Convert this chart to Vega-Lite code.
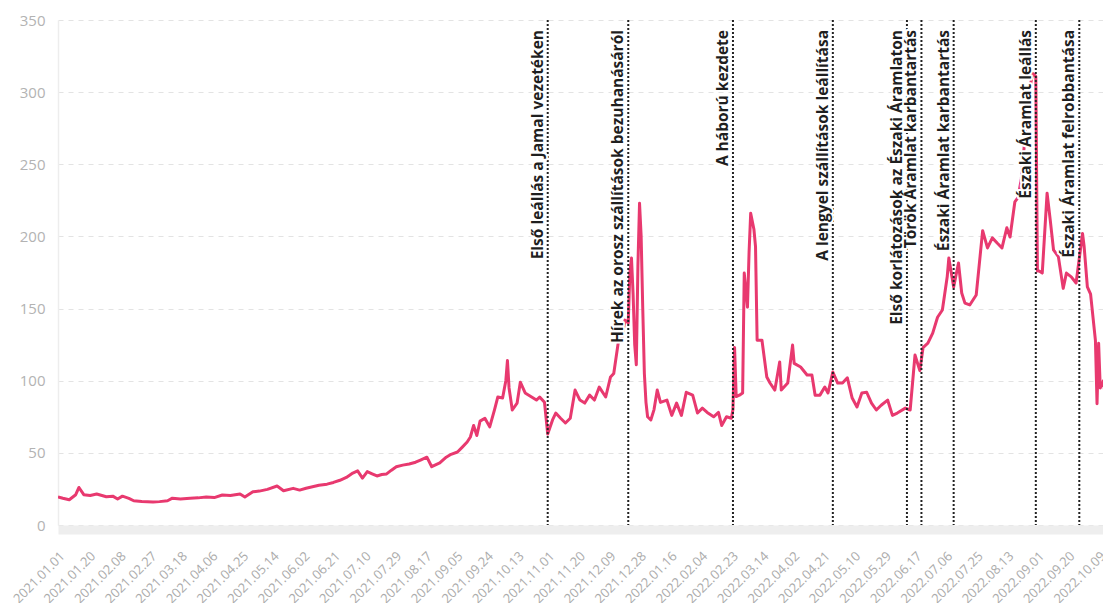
{
  "$schema": "https://vega.github.io/schema/vega-lite/v6.json",
  "width": 1045,
  "height": 505,
  "autosize": {"type": "none"},
  "padding": {"left": 58, "top": 20, "right": 0, "bottom": 78},
  "background": "white",
  "config": {"view": {"stroke": null}},
  "datasets": {
    "price": [
      {"date": "2021-01-01", "value": 19.5},
      {"date": "2021-01-04", "value": 18.5},
      {"date": "2021-01-08", "value": 17.5},
      {"date": "2021-01-12", "value": 21},
      {"date": "2021-01-14", "value": 26},
      {"date": "2021-01-17", "value": 21},
      {"date": "2021-01-21", "value": 20.5},
      {"date": "2021-01-25", "value": 21.5},
      {"date": "2021-01-31", "value": 19.6},
      {"date": "2021-02-04", "value": 20},
      {"date": "2021-02-07", "value": 18},
      {"date": "2021-02-10", "value": 20},
      {"date": "2021-02-14", "value": 18.5},
      {"date": "2021-02-17", "value": 16.8},
      {"date": "2021-02-22", "value": 16.3},
      {"date": "2021-03-01", "value": 15.9},
      {"date": "2021-03-05", "value": 16.2},
      {"date": "2021-03-10", "value": 16.8},
      {"date": "2021-03-13", "value": 18.6},
      {"date": "2021-03-18", "value": 18},
      {"date": "2021-03-24", "value": 18.6},
      {"date": "2021-03-29", "value": 18.8},
      {"date": "2021-04-03", "value": 19.4},
      {"date": "2021-04-08", "value": 19},
      {"date": "2021-04-13", "value": 20.8},
      {"date": "2021-04-18", "value": 20.5},
      {"date": "2021-04-24", "value": 21.5},
      {"date": "2021-04-27", "value": 19.4},
      {"date": "2021-05-02", "value": 23},
      {"date": "2021-05-06", "value": 23.5},
      {"date": "2021-05-11", "value": 24.7},
      {"date": "2021-05-17", "value": 27},
      {"date": "2021-05-21", "value": 23.7},
      {"date": "2021-05-27", "value": 25.4},
      {"date": "2021-05-31", "value": 24.2},
      {"date": "2021-06-04", "value": 25.5},
      {"date": "2021-06-08", "value": 26.5},
      {"date": "2021-06-12", "value": 27.5},
      {"date": "2021-06-17", "value": 28.3},
      {"date": "2021-06-21", "value": 29.5},
      {"date": "2021-06-25", "value": 31},
      {"date": "2021-06-29", "value": 33},
      {"date": "2021-07-03", "value": 36},
      {"date": "2021-07-06", "value": 37.5},
      {"date": "2021-07-09", "value": 32.5},
      {"date": "2021-07-12", "value": 37},
      {"date": "2021-07-15", "value": 35.5},
      {"date": "2021-07-18", "value": 34},
      {"date": "2021-07-21", "value": 35},
      {"date": "2021-07-24", "value": 35.4},
      {"date": "2021-07-27", "value": 38},
      {"date": "2021-07-30", "value": 40.4},
      {"date": "2021-08-03", "value": 41.5},
      {"date": "2021-08-07", "value": 42.3},
      {"date": "2021-08-11", "value": 43.5},
      {"date": "2021-08-14", "value": 45},
      {"date": "2021-08-18", "value": 47},
      {"date": "2021-08-21", "value": 40.4},
      {"date": "2021-08-26", "value": 43},
      {"date": "2021-08-30", "value": 47},
      {"date": "2021-09-02", "value": 49},
      {"date": "2021-09-06", "value": 50.6},
      {"date": "2021-09-09", "value": 54},
      {"date": "2021-09-12", "value": 57.5},
      {"date": "2021-09-14", "value": 61},
      {"date": "2021-09-16", "value": 69},
      {"date": "2021-09-18", "value": 62},
      {"date": "2021-09-20", "value": 72},
      {"date": "2021-09-23", "value": 74},
      {"date": "2021-09-26", "value": 68},
      {"date": "2021-09-29", "value": 80},
      {"date": "2021-10-01", "value": 88.7},
      {"date": "2021-10-04", "value": 88},
      {"date": "2021-10-06", "value": 100},
      {"date": "2021-10-07", "value": 114},
      {"date": "2021-10-08", "value": 95},
      {"date": "2021-10-10", "value": 79.7},
      {"date": "2021-10-13", "value": 84.5},
      {"date": "2021-10-15", "value": 99},
      {"date": "2021-10-18", "value": 91.5},
      {"date": "2021-10-22", "value": 88.7},
      {"date": "2021-10-25", "value": 86.6},
      {"date": "2021-10-27", "value": 88.7},
      {"date": "2021-10-30", "value": 85},
      {"date": "2021-11-01", "value": 63},
      {"date": "2021-11-04", "value": 72.8},
      {"date": "2021-11-06", "value": 77.6},
      {"date": "2021-11-09", "value": 74},
      {"date": "2021-11-12", "value": 70.7},
      {"date": "2021-11-15", "value": 74},
      {"date": "2021-11-18", "value": 93.5},
      {"date": "2021-11-21", "value": 86.6},
      {"date": "2021-11-24", "value": 84.5},
      {"date": "2021-11-27", "value": 90},
      {"date": "2021-11-30", "value": 86.6},
      {"date": "2021-12-03", "value": 95.6},
      {"date": "2021-12-07", "value": 88.7},
      {"date": "2021-12-10", "value": 102.6},
      {"date": "2021-12-12", "value": 105},
      {"date": "2021-12-15", "value": 128},
      {"date": "2021-12-17", "value": 130},
      {"date": "2021-12-19", "value": 142},
      {"date": "2021-12-21", "value": 140},
      {"date": "2021-12-22", "value": 175},
      {"date": "2021-12-23", "value": 185},
      {"date": "2021-12-24", "value": 160},
      {"date": "2021-12-25", "value": 125},
      {"date": "2021-12-26", "value": 111},
      {"date": "2021-12-27", "value": 180},
      {"date": "2021-12-28", "value": 223},
      {"date": "2021-12-29", "value": 200},
      {"date": "2021-12-30", "value": 150},
      {"date": "2021-12-31", "value": 105},
      {"date": "2022-01-01", "value": 85},
      {"date": "2022-01-02", "value": 75},
      {"date": "2022-01-04", "value": 72.8},
      {"date": "2022-01-06", "value": 80},
      {"date": "2022-01-08", "value": 93.5},
      {"date": "2022-01-10", "value": 85},
      {"date": "2022-01-14", "value": 86.6},
      {"date": "2022-01-17", "value": 76},
      {"date": "2022-01-20", "value": 84.5},
      {"date": "2022-01-23", "value": 76},
      {"date": "2022-01-26", "value": 92},
      {"date": "2022-01-30", "value": 90},
      {"date": "2022-02-02", "value": 77.6},
      {"date": "2022-02-05", "value": 81},
      {"date": "2022-02-08", "value": 78},
      {"date": "2022-02-12", "value": 75},
      {"date": "2022-02-15", "value": 78},
      {"date": "2022-02-17", "value": 69},
      {"date": "2022-02-20", "value": 75},
      {"date": "2022-02-23", "value": 74},
      {"date": "2022-02-24", "value": 80},
      {"date": "2022-02-25", "value": 123},
      {"date": "2022-02-26", "value": 89},
      {"date": "2022-02-28", "value": 90},
      {"date": "2022-03-02", "value": 91.5},
      {"date": "2022-03-03", "value": 174.6},
      {"date": "2022-03-05", "value": 151},
      {"date": "2022-03-06", "value": 189},
      {"date": "2022-03-07", "value": 216},
      {"date": "2022-03-09", "value": 205},
      {"date": "2022-03-10", "value": 193},
      {"date": "2022-03-11", "value": 128},
      {"date": "2022-03-14", "value": 128},
      {"date": "2022-03-17", "value": 102.6},
      {"date": "2022-03-19", "value": 98.4},
      {"date": "2022-03-22", "value": 93.5},
      {"date": "2022-03-25", "value": 113},
      {"date": "2022-03-26", "value": 93.5},
      {"date": "2022-03-30", "value": 98.4},
      {"date": "2022-04-02", "value": 124.7},
      {"date": "2022-04-03", "value": 112},
      {"date": "2022-04-07", "value": 109.5},
      {"date": "2022-04-11", "value": 104},
      {"date": "2022-04-14", "value": 104},
      {"date": "2022-04-16", "value": 90},
      {"date": "2022-04-19", "value": 90},
      {"date": "2022-04-22", "value": 95.6},
      {"date": "2022-04-24", "value": 91.5},
      {"date": "2022-04-27", "value": 106},
      {"date": "2022-04-30", "value": 98.4},
      {"date": "2022-05-03", "value": 98.4},
      {"date": "2022-05-06", "value": 102},
      {"date": "2022-05-09", "value": 88},
      {"date": "2022-05-12", "value": 81.8},
      {"date": "2022-05-15", "value": 91.5},
      {"date": "2022-05-18", "value": 92},
      {"date": "2022-05-21", "value": 84.5},
      {"date": "2022-05-24", "value": 79.7},
      {"date": "2022-05-27", "value": 83},
      {"date": "2022-05-31", "value": 86.6},
      {"date": "2022-06-03", "value": 76},
      {"date": "2022-06-06", "value": 77.6},
      {"date": "2022-06-11", "value": 81},
      {"date": "2022-06-14", "value": 79.7},
      {"date": "2022-06-16", "value": 105},
      {"date": "2022-06-17", "value": 117.8},
      {"date": "2022-06-20", "value": 107},
      {"date": "2022-06-22", "value": 123},
      {"date": "2022-06-25", "value": 126},
      {"date": "2022-06-28", "value": 133},
      {"date": "2022-07-01", "value": 144},
      {"date": "2022-07-04", "value": 149},
      {"date": "2022-07-07", "value": 172},
      {"date": "2022-07-08", "value": 185},
      {"date": "2022-07-11", "value": 165},
      {"date": "2022-07-14", "value": 181.6},
      {"date": "2022-07-16", "value": 160.8},
      {"date": "2022-07-18", "value": 153.8},
      {"date": "2022-07-21", "value": 152.5},
      {"date": "2022-07-25", "value": 159.4},
      {"date": "2022-07-29", "value": 204},
      {"date": "2022-08-01", "value": 192},
      {"date": "2022-08-04", "value": 199},
      {"date": "2022-08-07", "value": 195.4},
      {"date": "2022-08-10", "value": 192},
      {"date": "2022-08-13", "value": 206},
      {"date": "2022-08-15", "value": 199.6},
      {"date": "2022-08-18", "value": 224},
      {"date": "2022-08-20", "value": 227},
      {"date": "2022-08-22", "value": 240},
      {"date": "2022-08-24", "value": 265},
      {"date": "2022-08-26", "value": 295},
      {"date": "2022-08-29", "value": 313},
      {"date": "2022-08-30", "value": 312},
      {"date": "2022-08-31", "value": 311},
      {"date": "2022-09-01", "value": 176},
      {"date": "2022-09-02", "value": 176},
      {"date": "2022-09-04", "value": 174.6},
      {"date": "2022-09-07", "value": 230},
      {"date": "2022-09-09", "value": 211},
      {"date": "2022-09-11", "value": 190.6},
      {"date": "2022-09-14", "value": 186},
      {"date": "2022-09-17", "value": 164},
      {"date": "2022-09-19", "value": 174.6},
      {"date": "2022-09-22", "value": 172},
      {"date": "2022-09-25", "value": 167.7},
      {"date": "2022-09-29", "value": 202},
      {"date": "2022-09-30", "value": 193},
      {"date": "2022-10-02", "value": 165},
      {"date": "2022-10-04", "value": 160},
      {"date": "2022-10-07", "value": 128},
      {"date": "2022-10-08", "value": 84},
      {"date": "2022-10-09", "value": 126},
      {"date": "2022-10-10", "value": 95},
      {"date": "2022-10-11", "value": 98},
      {"date": "2022-10-12", "value": 100},
      {"date": "2022-10-13", "value": 90}
    ],
    "events": [
      {"date": "2021-11-01", "label": "Első leállás a Jamal vezetéken"},
      {"date": "2021-12-21", "label": "Hírek az orosz szállítások bezuhanásáról"},
      {"date": "2022-02-24", "label": "A háború kezdete"},
      {"date": "2022-04-27", "label": "A lengyel szállítások leállítása"},
      {"date": "2022-06-12", "label": "Első korlátozások az Északi Áramlaton"},
      {"date": "2022-06-21", "label": "Török Áramlat karbantartás"},
      {"date": "2022-07-11", "label": "Északi Áramlat karbantartás"},
      {"date": "2022-08-31", "label": "Északi Áramlat leállás"},
      {"date": "2022-09-27", "label": "Északi Áramlat felrobbantása"}
    ]
  },
  "encoding": {
    "x": {
      "field": "date",
      "type": "temporal",
      "scale": {
        "type": "utc",
        "nice": false,
        "domain": [
          {"year": 2021, "month": 1, "date": 1, "utc": true},
          {"year": 2022, "month": 10, "date": 11, "hours": 17, "utc": true}
        ]
      },
      "axis": {
        "title": null,
        "grid": false,
        "ticks": false,
        "offset": 4.5,
        "domainColor": "#eeeeee",
        "domainWidth": 9,
        "labelAngle": -45,
        "labelFont": "Open Sans",
        "labelFontSize": 13,
        "labelColor": "#ababab",
        "labelPadding": 20,
        "labelOverlap": false,
        "labelBound": false,
        "labelFlush": false,
        "labelExpr": "utcFormat(datum.value, '%Y.%m.%d')",
        "values": [
          {"year": 2021, "month": 1, "date": 1, "utc": true},
          {"year": 2021, "month": 1, "date": 20, "utc": true},
          {"year": 2021, "month": 2, "date": 8, "utc": true},
          {"year": 2021, "month": 2, "date": 27, "utc": true},
          {"year": 2021, "month": 3, "date": 18, "utc": true},
          {"year": 2021, "month": 4, "date": 6, "utc": true},
          {"year": 2021, "month": 4, "date": 25, "utc": true},
          {"year": 2021, "month": 5, "date": 14, "utc": true},
          {"year": 2021, "month": 6, "date": 2, "utc": true},
          {"year": 2021, "month": 6, "date": 21, "utc": true},
          {"year": 2021, "month": 7, "date": 10, "utc": true},
          {"year": 2021, "month": 7, "date": 29, "utc": true},
          {"year": 2021, "month": 8, "date": 17, "utc": true},
          {"year": 2021, "month": 9, "date": 5, "utc": true},
          {"year": 2021, "month": 9, "date": 24, "utc": true},
          {"year": 2021, "month": 10, "date": 13, "utc": true},
          {"year": 2021, "month": 11, "date": 1, "utc": true},
          {"year": 2021, "month": 11, "date": 20, "utc": true},
          {"year": 2021, "month": 12, "date": 9, "utc": true},
          {"year": 2021, "month": 12, "date": 28, "utc": true},
          {"year": 2022, "month": 1, "date": 16, "utc": true},
          {"year": 2022, "month": 2, "date": 4, "utc": true},
          {"year": 2022, "month": 2, "date": 23, "utc": true},
          {"year": 2022, "month": 3, "date": 14, "utc": true},
          {"year": 2022, "month": 4, "date": 2, "utc": true},
          {"year": 2022, "month": 4, "date": 21, "utc": true},
          {"year": 2022, "month": 5, "date": 10, "utc": true},
          {"year": 2022, "month": 5, "date": 29, "utc": true},
          {"year": 2022, "month": 6, "date": 17, "utc": true},
          {"year": 2022, "month": 7, "date": 6, "utc": true},
          {"year": 2022, "month": 7, "date": 25, "utc": true},
          {"year": 2022, "month": 8, "date": 13, "utc": true},
          {"year": 2022, "month": 9, "date": 1, "utc": true},
          {"year": 2022, "month": 9, "date": 20, "utc": true},
          {"year": 2022, "month": 10, "date": 9, "utc": true}
        ]
      }
    }
  },
  "layer": [
    {
      "data": {"name": "price"},
      "mark": {"type": "line", "color": "#E8396F", "strokeWidth": 3, "clip": true, "strokeJoin": "round"},
      "encoding": {
        "y": {
          "field": "value",
          "type": "quantitative",
          "scale": {"domain": [0, 350], "nice": false, "zero": true},
          "axis": {
            "title": null,
            "values": [0, 50, 100, 150, 200, 250, 300, 350],
            "ticks": false,
            "grid": true,
            "gridColor": "#e3e3e3",
            "gridDash": [5, 5],
            "gridWidth": 1,
            "domainColor": "#ededed",
            "domainWidth": 1.5,
            "labelFont": "Open Sans",
            "labelFontSize": 15,
            "labelColor": "#b3b3b3",
            "labelPadding": 13
          }
        }
      }
    },
    {
      "data": {"name": "events"},
      "mark": {"type": "rule", "color": "#222222", "strokeWidth": 2, "strokeDash": [2, 2]},
      "encoding": {}
    },
    {
      "data": {"name": "events"},
      "mark": {"type": "text", "angle": 270, "align": "right", "baseline": "alphabetic", "dx": -10, "dy": -5, "font": "Open Sans", "fontSize": 15.5, "fontWeight": "bold", "fill": "white", "stroke": "white", "strokeWidth": 4, "strokeJoin": "round"},
      "encoding": {"y": {"datum": 350, "type": "quantitative"}, "text": {"field": "label"}}
    },
    {
      "data": {"name": "events"},
      "mark": {"type": "text", "angle": 270, "align": "right", "baseline": "alphabetic", "dx": -10, "dy": -5, "font": "Open Sans", "fontSize": 15.5, "fontWeight": "bold", "color": "#1f1f1f"},
      "encoding": {"y": {"datum": 350, "type": "quantitative"}, "text": {"field": "label"}}
    }
  ]
}
